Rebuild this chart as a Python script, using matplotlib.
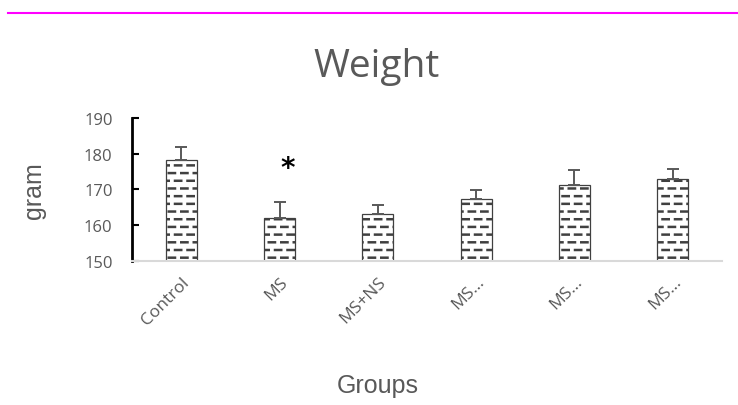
import numpy as np
import matplotlib
matplotlib.use('Agg')
import matplotlib.pyplot as plt
from matplotlib import hatch as mhatch

groups = ['Control', 'MS', 'MS+NS', 'MS…', 'MS…', 'MS…']
weight = [178.3, 162.0, 163.1, 167.3, 171.3, 172.9]
err_up = [3.7, 4.6, 2.6, 2.6, 4.2, 2.8]
star_group = 1
star_level = 176.0


# staggered short dashes, like the office "dashed horizontal" fill
class DashRows(mhatch.HatchPatternBase):
    rows = 13
    dashes = 8

    def __init__(self, hatch, density):
        self.on = hatch.count('-') > 0
        self.num_vertices = self.rows * self.dashes * 2 if self.on else 0

    def set_vertices_and_codes(self, vertices, codes):
        n = 0
        step = 1.0 / self.dashes
        for i in range(self.rows):
            y = (i + 0.5) / self.rows
            off = 0.0 if i % 2 == 0 else step / 2
            for k in range(self.dashes):
                x0 = k * step + off
                vertices[n] = (x0, y)
                vertices[n + 1] = (x0 + step / 2, y)
                codes[n] = 1   # MOVETO
                codes[n + 1] = 2  # LINETO
                n += 2


mhatch._hatch_types = [DashRows]
plt.rcParams['hatch.linewidth'] = 1.8
plt.rcParams['hatch.color'] = '#404040'

gray = '#595959'
fig = plt.figure(figsize=(7.38, 4.06), dpi=100)
ax = fig.add_axes([0.1789, 0.3547, 0.7994, 0.3522])

x = np.arange(len(groups))
ax.bar(x, weight, width=0.315, bottom=0, color='white', edgecolor='#404040',
       linewidth=0.9, hatch='-', zorder=2)
ax.errorbar(x, weight, yerr=[np.zeros(len(err_up)), err_up], fmt='none',
            ecolor=gray, elinewidth=1.4, capsize=4.5, capthick=1.4, zorder=3)

ax.text(star_group + 0.08, star_level, '*', ha='center', va='center',
        fontsize=20, color='black', family='DejaVu Sans', fontweight='bold')

ax.set_ylim(150, 190)
ax.set_xlim(-0.5, len(groups) - 0.5)
ax.set_yticks([150, 160, 170, 180, 190])
ax.set_xticks(x)
ax.set_xticklabels(groups, rotation=45, ha='right', rotation_mode='anchor',
                   family='Open Sans', fontsize=12.5, color=gray)
for lab in ax.get_yticklabels():
    lab.set_family('Open Sans')
ax.tick_params(axis='y', direction='in', length=5, width=1.5, pad=14,
               labelsize=12, labelcolor=gray, color='black')
ax.tick_params(axis='x', length=0, pad=9)

for s in ['top', 'right']:
    ax.spines[s].set_visible(False)
ax.spines['left'].set_linewidth(2)
ax.spines['left'].set_color('black')
ax.spines['bottom'].set_color('#d9d9d9')
ax.spines['bottom'].set_linewidth(1.5)

ax.set_ylabel('gram', family='Liberation Sans', fontsize=18, color=gray)
ax.yaxis.set_label_coords(-0.145, 0.5)
fig.text(0.512, 0.032, 'Groups', family='Liberation Sans', fontsize=18,
         color=gray, ha='center', va='baseline')
fig.text(0.51, 0.81, 'Weight', family='Open Sans', fontsize=28,
         color=gray, ha='center', va='baseline')

fig.add_artist(plt.Line2D([0.011, 1.0], [1 - 14 / 406, 1 - 14 / 406],
                          color='#ff00ff', linewidth=1.5))

fig.savefig('out.png', dpi=100)
